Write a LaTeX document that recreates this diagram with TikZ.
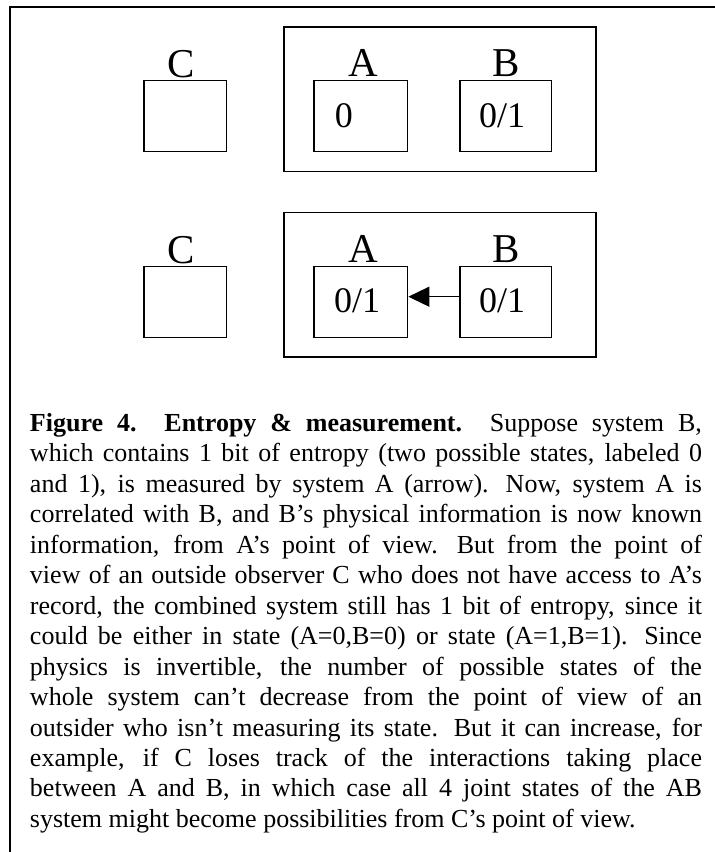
\documentclass[tikz,border=0pt]{standalone}
\usepackage{fontspec}
\setmainfont{Liberation Serif}
\usetikzlibrary{arrows.meta}

\begin{document}
\begin{tikzpicture}[x=0.5pt, y=-0.5pt,
  box/.style={draw, line width=0.7pt, inner sep=0pt, minimum height=35.5pt},
  tag/.style={anchor=base, inner sep=0pt, font=\fontsize{20.5}{24}\selectfont},
  val/.style={anchor=base, inner sep=0pt, font=\fontsize{18}{21}\selectfont}]
\useasboundingbox (0,0) rectangle (715,852);
\draw[line width=0.9pt] (10,852) -- (10,7.3) -- (715,7.3);
% before the measurement
\node[box, minimum width=156pt, minimum height=72.2pt] (sysTop) at (440,99.2){};
\node[box, minimum width=41.2pt] (cTop) at (185.2,116.2){};
\node[box, minimum width=46.9pt] (aTop) at (360.8,116.2){};
\node[box, minimum width=45.9pt] (bTop) at (505.8,116.2){};
\node[tag] (cTopName) at (181.3,77.3){C};
\node[tag] (aTopName) at (363.5,76.6){A};
\node[tag] (bTopName) at (506.2,76.2){B};
\node[val] (aTopVal) at (343.8,127.3){0};
\node[val] (bTopVal) at (502.2,127.3){0/1};
% after the measurement
\node[box, minimum width=156pt, minimum height=72.2pt] (sysBot) at (440,284.9){};
\node[box, minimum width=41.2pt] (cBot) at (185.2,301.9){};
\node[box, minimum width=46.9pt] (aBot) at (360.8,301.9){};
\node[box, minimum width=45.9pt] (bBot) at (505.8,301.9){};
\node[tag] (cBotName) at (181.3,263){C};
\node[tag] (aBotName) at (363.5,262.4){A};
\node[tag] (bBotName) at (506.2,262){B};
\node[val] (aBotVal) at (357,312.5){0/1};
\node[val] (bBotVal) at (502.2,312.5){0/1};
\draw[-{Triangle[length=10.5pt, width=10pt]}, line width=0.7pt]
  ([yshift=2.6pt]bBot.west) -- ([yshift=2.6pt]aBot.east);
% caption
\node[anchor=north west, inner sep=0pt, text width=336pt, align=justify,
  font=\fontsize{13}{15.23}\selectfont] (caption) at (29.6,413){%
\spaceskip=0.25em plus 0.5em minus 0.12em
\xspaceskip=0.5em plus 0.5em minus 0.2em
\textbf{Figure 4.\ \ Entropy \& measurement.}\ \ Suppose system B,\linebreak
which contains 1 bit of entropy (two possible states, labeled 0\linebreak
and 1), is measured by system A (arrow).  Now, system A is\linebreak
correlated with B, and B’s physical information is now known\linebreak
information, from A’s point of view.  But from the point of\linebreak
view of an outside observer C who does not have access to A’s\linebreak
record, the combined system still has 1 bit of entropy, since it\linebreak
could be either in state (A=0,B=0) or state (A=1,B=1).  Since\linebreak
physics is invertible, the number of possible states of the\linebreak
whole system can’t decrease from the point of view of an\linebreak
outsider who isn’t measuring its state.  But it can increase, for\linebreak
example, if C loses track of the interactions taking place\linebreak
between A and B, in which case all 4 joint states of the AB\linebreak
system might become possibilities from C’s point of view.};
\end{tikzpicture}
\end{document}
